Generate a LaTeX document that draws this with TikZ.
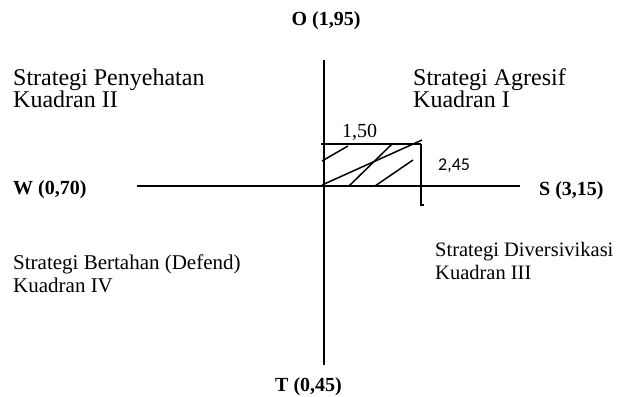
\documentclass[tikz,border=0pt]{standalone}
\usepackage{fontspec}
\setmainfont{Liberation Serif}
\newfontfamily\calib{Carlito}
\begin{document}
\begin{tikzpicture}[x=1pt,y=-1pt,
  axis/.style={line width=1.5pt},
  hatch/.style={line width=1.5pt},
  lbl/.style={anchor=base west,inner sep=0pt,align=left},
  bigq/.style={lbl,font=\fontsize{24}{22.5}\selectfont},
  smallq/.style={lbl,font=\fontsize{21}{22.5}\selectfont},
  pole/.style={inner sep=0pt,font=\bfseries\fontsize{20}{22}\selectfont}]
\useasboundingbox (0,0) rectangle (620,396);
% axes
\coordinate (vtop) at (324,60);
\coordinate (vbot) at (324,365);
\coordinate (hl) at (137,186);
\coordinate (hr) at (520,186);
\draw[axis] (vtop) -- (vbot);
\draw[axis] (hl) -- (hr);
% rectangle
\coordinate (rtl) at (321,144);
\coordinate (rtr) at (421,144);
\coordinate (rbr) at (421,205);
\coordinate (rbt) at (424,205);
\draw[hatch] (rtl) -- (rtr);
\draw[hatch] (rtr) -- (rbr) -- (rbt);
% hatching
\coordinate (d0a) at (322,185); \coordinate (d0b) at (422,140);
\coordinate (d1a) at (322,161); \coordinate (d1b) at (348,146);
\coordinate (d2a) at (349,186); \coordinate (d2b) at (392,144);
\coordinate (d3a) at (375,186); \coordinate (d3b) at (413,160);
\draw[hatch] (d0a) -- (d0b);
\draw[hatch] (d1a) -- (d1b);
\draw[hatch] (d2a) -- (d2b);
\draw[hatch] (d3a) -- (d3b);
% labels
\node[pole,anchor=base] (O) at (326,26) {O (1,95)};
\node[pole,anchor=base west] (T) at (275,391) {T (0,45)};
\node[pole,anchor=base west] (W) at (13,194) {W (0,70)};
\node[pole,anchor=base west] (S) at (539,195) {S (3,15)};
\node[bigq] (q2) at (13,107.5) {Strategi Penyehatan\\Kuadran II};
\node[bigq] (q1) at (413,107.5) {Strategi Agresif\\Kuadran I};
\node[smallq] (q4) at (13,292) {Strategi Bertahan (Defend)\\Kuadran IV};
\node[lbl,font=\fontsize{20.5}{22.5}\selectfont] (q3) at (435,279) {Strategi Diversivikasi\\Kuadran III};
\node[lbl,font=\fontsize{20}{20}\selectfont] (v150) at (342,137) {1,50};
\node[lbl,font=\calib\fontsize{18}{20}\selectfont] (v245) at (438,170) {2,45};
\end{tikzpicture}
\end{document}
